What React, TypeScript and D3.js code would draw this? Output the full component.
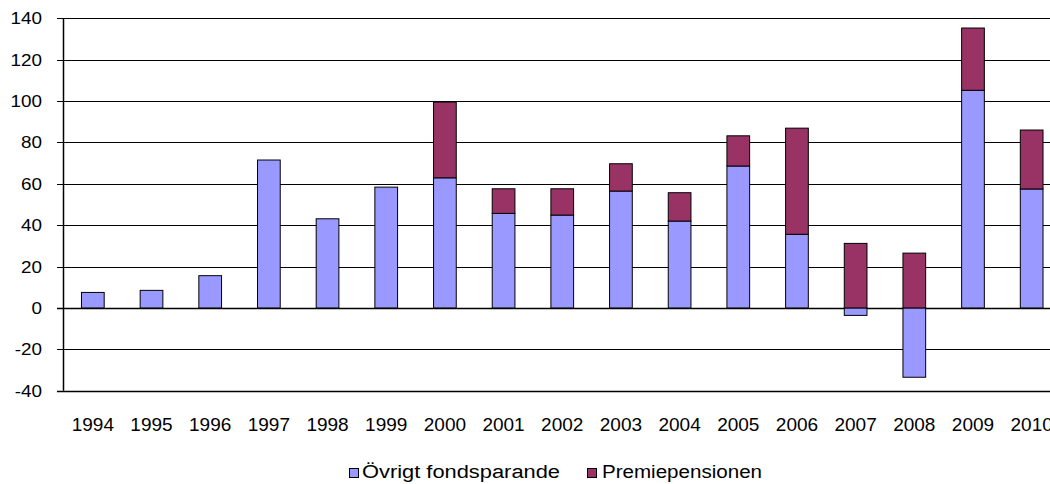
import React from "react";
import * as d3 from "d3";

const years = ["1994", "1995", "1996", "1997", "1998", "1999", "2000", "2001", "2002", "2003", "2004", "2005", "2006", "2007", "2008", "2009", "2010"];
const ovrigt = [7.5, 8.5, 15.6, 71.5, 43.1, 58.4, 62.9, 45.7, 44.9, 56.5, 42.0, 68.6, 35.6, -3.6, -33.5, 105.2, 57.5];
const premie = [0, 0, 0, 0, 0, 0, 36.6, 11.9, 12.7, 13.2, 13.7, 14.6, 51.3, 31.2, 26.5, 30.1, 28.5];
const yTicks = [-40, -20, 0, 20, 40, 60, 80, 100, 120, 140];
const seriesNames = ["Övrigt fondsparande", "Premiepensionen"];
const colors = ["#9999FF", "#993366"];

const W = 1050;
const H = 484;
const left = 63.5;
const right = 1061;
const top = 18.3;
const bottom = 390.7;

const App: React.FC = () => {
  const x = d3.scaleBand().domain(years).range([left, right]).paddingInner(0.613).paddingOuter(0.3065);
  const y = d3.scaleLinear().domain([-40, 140]).range([bottom, top]);

  const rows = years.map((yr, i) => ({ year: yr, a: ovrigt[i], b: premie[i] }));
  const stacked = d3.stack<any>().keys(["a", "b"]).offset(d3.stackOffsetDiverging)(rows);

  const font = "'Liberation Sans', Arial, sans-serif";

  return (
    <svg width={W} height={H} style={{ position: "absolute", left: 0, top: 0, background: "#fff" }}>
      {yTicks.map((t) => (
        <line key={"g" + t} x1={57} x2={W} y1={Math.round(y(t)) + 0.5} y2={Math.round(y(t)) + 0.5} stroke="#000" strokeWidth={t === -40 || t === 0 ? 1.5 : 1} />
      ))}
      <line x1={left} x2={left} y1={top} y2={bottom} stroke="#000" strokeWidth={1.5} />
      {yTicks.map((t) => (
        <text key={"t" + t} transform={`translate(42,${y(t) + 6}) scale(1.18,1)`} textAnchor="end" fontFamily={font} fontSize={16} fill="#000">
          {t}
        </text>
      ))}
      {stacked.map((s, si) => (
        <g key={s.key} fill={colors[si]} stroke="#000" strokeWidth={1}>
          {s.map((d, i) =>
            d[1] - d[0] === 0 ? null : (
              <rect key={i} x={x(years[i])!} width={x.bandwidth()} y={y(Math.max(d[0], d[1]))} height={Math.abs(y(d[0]) - y(d[1]))} />
            )
          )}
        </g>
      ))}
      {years.map((yr) => (
        <text key={yr} x={x(yr)! + x.bandwidth() / 2} y={431} textAnchor="middle" fontFamily={font} fontSize={19} fill="#000">
          {yr}
        </text>
      ))}
      <g fontFamily={font} fontSize={18} fill="#000">
        <rect x={349.5} y={468.5} width={9} height={9} fill={colors[0]} stroke="#000" strokeWidth={1} />
        <text x={362} y={478} textLength={198} lengthAdjust="spacingAndGlyphs">{seriesNames[0]}</text>
        <rect x={587.5} y={468.5} width={9} height={9} fill={colors[1]} stroke="#000" strokeWidth={1} />
        <text x={602} y={478} textLength={160} lengthAdjust="spacingAndGlyphs">{seriesNames[1]}</text>
      </g>
    </svg>
  );
};

export default App;
